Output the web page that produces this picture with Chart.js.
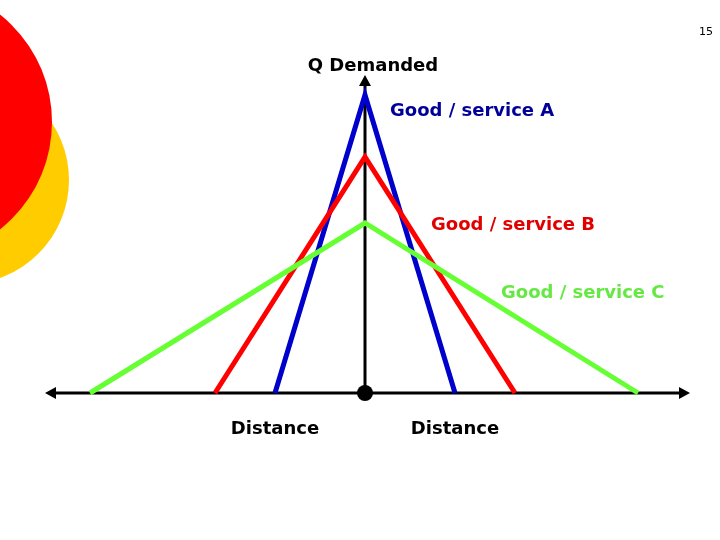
<!DOCTYPE html>
<html lang="en">
<head>
    <meta charset="UTF-8">
    <title>Distance decay</title>
    <script src="https://cdn.jsdelivr.net/npm/chart.js@4.4.1/dist/chart.umd.min.js"></script>
    <style>
        body { margin: 0; background: #fff; }
        #wrap { width: 720px; height: 540px; position: relative; }
    </style>
</head>
<body>
<div id="wrap">
    <canvas id="myChart" width="720" height="540"></canvas>
</div>
<script>
    // range of each good (distance left/right of the centre) and quantity demanded at the centre
    var goods = ['Good / service A', 'Good / service B', 'Good / service C'];
    var reachLeft = [-90, -150, -275];
    var reachRight = [90, 150, 273];
    var peakQ = [298, 236, 170];
    var lineColors = ['#0000cc', '#ff0000', '#66ff33'];
    var labelColors = ['#000099', '#e00000', '#66e844'];
    // where the labels sit, in chart units
    var labelX = [25, 66, 136];
    var labelY = [282, 168, 100];

    var axisLabels = ['Q Demanded', 'Distance', 'Distance'];

    var datasets = goods.map(function (g, i) {
        return {
            label: g,
            data: [{x: reachLeft[i], y: 0}, {x: 0, y: peakQ[i]}, {x: reachRight[i], y: 0}],
            borderColor: lineColors[i],
            borderWidth: 5,
            pointRadius: 0,
            tension: 0,
            order: 3 - i
        };
    });

    var slide = {
        id: 'slide',
        beforeDraw: function (chart) {
            var ctx = chart.ctx;
            ctx.save();
            ctx.fillStyle = '#ffcc00';
            ctx.beginPath();
            ctx.arc(-35, 180, 104, 0, Math.PI * 2);
            ctx.fill();
            ctx.fillStyle = '#ff0000';
            ctx.beginPath();
            ctx.arc(-85, 122, 137, 0, Math.PI * 2);
            ctx.fill();

            // axes
            var xs = chart.scales.x, ys = chart.scales.y;
            var x0 = xs.getPixelForValue(0), y0 = ys.getPixelForValue(0);
            var xl = xs.getPixelForValue(-320), xr = xs.getPixelForValue(325);
            var yt = ys.getPixelForValue(318);
            ctx.strokeStyle = '#000';
            ctx.fillStyle = '#000';
            ctx.lineWidth = 3;
            ctx.beginPath();
            ctx.moveTo(xl + 4, y0); ctx.lineTo(xr - 4, y0);
            ctx.moveTo(x0, y0); ctx.lineTo(x0, yt + 4);
            ctx.stroke();
            ctx.beginPath();
            ctx.moveTo(xl, y0); ctx.lineTo(xl + 11, y0 - 6); ctx.lineTo(xl + 11, y0 + 6); ctx.closePath();
            ctx.moveTo(xr, y0); ctx.lineTo(xr - 11, y0 - 6); ctx.lineTo(xr - 11, y0 + 6); ctx.closePath();
            ctx.moveTo(x0, yt); ctx.lineTo(x0 - 6, yt + 11); ctx.lineTo(x0 + 6, yt + 11); ctx.closePath();
            ctx.fill();
            ctx.restore();
        },
        afterDraw: function (chart) {
            var ctx = chart.ctx;
            var xs = chart.scales.x, ys = chart.scales.y;
            var x0 = xs.getPixelForValue(0), y0 = ys.getPixelForValue(0);
            ctx.save();
            ctx.fillStyle = '#000';
            ctx.beginPath();
            ctx.arc(x0, y0, 8, 0, Math.PI * 2);
            ctx.fill();

            ctx.font = 'bold 18px "DejaVu Sans"';
            ctx.textBaseline = 'middle';
            for (var i = 0; i < goods.length; i++) {
                ctx.fillStyle = labelColors[i];
                ctx.textAlign = 'left';
                ctx.fillText(goods[i], xs.getPixelForValue(labelX[i]), ys.getPixelForValue(labelY[i]));
            }
            ctx.fillStyle = '#000';
            ctx.textAlign = 'center';
            ctx.fillText(axisLabels[0], x0 + 8, 66);
            ctx.fillText(axisLabels[1], xs.getPixelForValue(-90), y0 + 36);
            ctx.fillText(axisLabels[2], xs.getPixelForValue(90), y0 + 36);

            ctx.font = '11px "DejaVu Sans"';
            ctx.textAlign = 'right';
            ctx.fillText('15', 713, 32);
            ctx.restore();
        }
    };

    new Chart(document.getElementById('myChart').getContext('2d'), {
        type: 'line',
        data: {datasets: datasets},
        options: {
            responsive: false,
            animation: false,
            layout: {padding: 0},
            plugins: {legend: {display: false}, tooltip: {enabled: false}},
            scales: {
                x: {type: 'linear', min: -365, max: 355, display: false},
                y: {type: 'linear', min: -147, max: 393, display: false}
            }
        },
        plugins: [slide]
    });
</script>
</body>
</html>
